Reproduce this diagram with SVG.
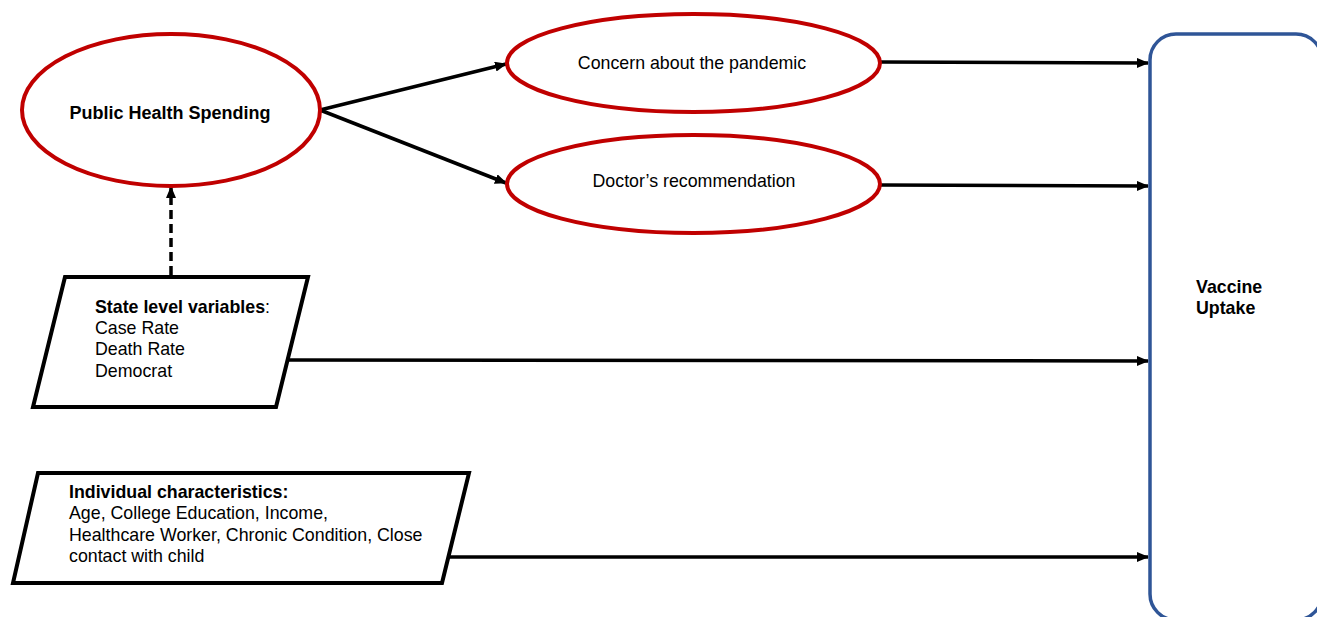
<svg xmlns="http://www.w3.org/2000/svg" width="1317" height="617" viewBox="0 0 1317 617">
<defs>
<style>
.ell{fill:#fff;stroke:#c00000;stroke-width:4}
.para{fill:#fff;stroke:#000;stroke-width:4;stroke-linejoin:miter}
.t{font-family:"Liberation Sans",Arial,sans-serif;font-size:17.8px;fill:#000}
.b{font-weight:bold}
.conn{stroke:#000;stroke-width:3.5;fill:none}
</style>
<marker id="ah" markerWidth="12" markerHeight="10" refX="11" refY="5" orient="auto" markerUnits="userSpaceOnUse">
<path d="M0,0 L12,5 L0,10 Z" fill="#000"/>
</marker>
</defs>
<rect width="1317" height="617" fill="#fff"/>
<g id="connectors">
<line class="conn" x1="320" y1="110" x2="506" y2="64" marker-end="url(#ah)"/>
<line class="conn" x1="320" y1="110" x2="506" y2="183" marker-end="url(#ah)"/>
<line class="conn" x1="880" y1="62" x2="1148" y2="63" marker-end="url(#ah)"/>
<line class="conn" x1="880" y1="185" x2="1148" y2="186" marker-end="url(#ah)"/>
<line class="conn" x1="288" y1="360" x2="1148" y2="361" marker-end="url(#ah)"/>
<line class="conn" x1="445" y1="557" x2="1148" y2="557" marker-end="url(#ah)"/>
<line class="conn" x1="171" y1="275" x2="171" y2="187" stroke-dasharray="9,5" marker-end="url(#ah)"/>
</g>
<g id="public-health-spending">
<ellipse class="ell" cx="171" cy="110" rx="149" ry="76"/>
<text class="t b" x="170" y="119" text-anchor="middle" style="font-size:18px">Public Health Spending</text>
</g>
<g id="concern">
<ellipse class="ell" cx="693.5" cy="63" rx="186.5" ry="49"/>
<text class="t" x="692" y="69" text-anchor="middle">Concern about the pandemic</text>
</g>
<g id="doctor">
<ellipse class="ell" cx="693.5" cy="184" rx="186.5" ry="49"/>
<text class="t" x="694" y="187" text-anchor="middle">Doctor’s recommendation</text>
</g>
<g id="state-level">
<polygon class="para" points="65,277 308,277 276,407 33,407"/>
<text class="t" x="95" y="313"><tspan class="b">State level variables</tspan>:</text>
<text class="t" x="95" y="334">Case Rate</text>
<text class="t" x="95" y="355">Death Rate</text>
<text class="t" x="95" y="377">Democrat</text>
</g>
<g id="individual">
<polygon class="para" points="38,473 469,473 442,583 13,583"/>
<text class="t b" x="69" y="498">Individual characteristics:</text>
<text class="t" x="69" y="519">Age, College Education, Income,</text>
<text class="t" x="69" y="541">Healthcare Worker, Chronic Condition, Close</text>
<text class="t" x="69" y="562">contact with child</text>
</g>
<g id="vaccine-uptake">
<rect x="1150" y="34" width="172" height="586" rx="26" ry="26" fill="#fff" stroke="#2f5597" stroke-width="3.5"/>
<text class="t b" x="1196" y="293">Vaccine</text>
<text class="t b" x="1196" y="314">Uptake</text>
</g>
</svg>
